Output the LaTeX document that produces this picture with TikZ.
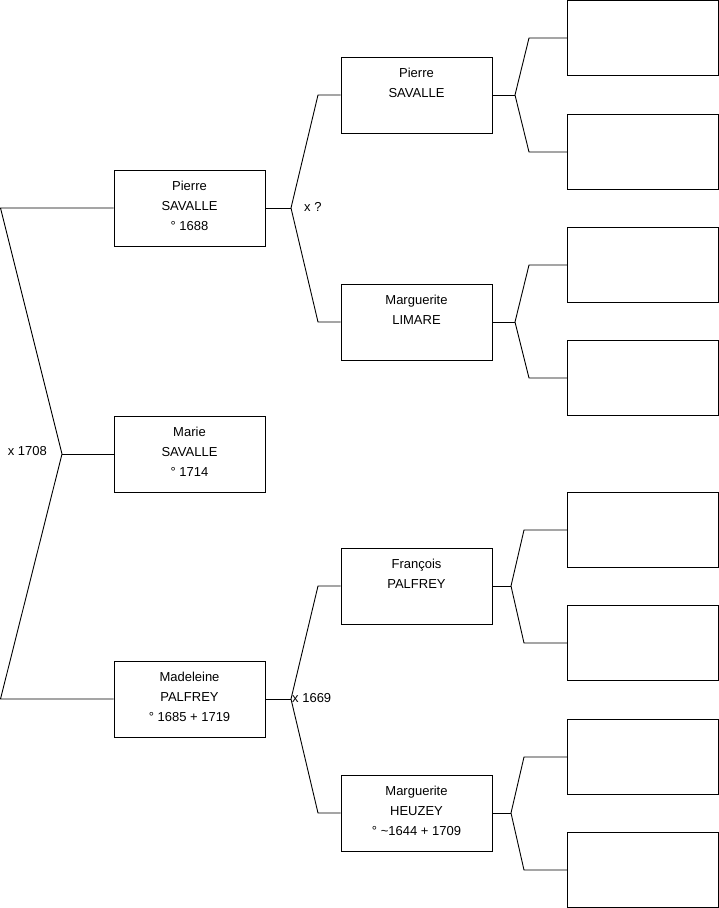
\documentclass[tikz,border=0pt]{standalone}
\usepackage{fontspec}
\setmainfont{Liberation Sans}
\begin{document}
\begin{tikzpicture}[x=1pt,y=-1pt,
  box/.style={draw,line width=0.9pt,minimum width=151pt,minimum height=76pt,inner sep=0pt},
  gbox/.style={draw,line width=0.9pt,minimum width=151pt,minimum height=75pt,inner sep=0pt},
  conn/.style={line width=0.9pt},
  txt/.style={font=\fontsize{13}{20}\selectfont,align=center,inner sep=0pt,anchor=north},
  lbl/.style={font=\fontsize{13}{16}\selectfont,inner sep=0pt}]
\useasboundingbox (0,0) rectangle (719,908);
% generation 1
\node[box] (p1) at (189.5,208) {};
\node[txt] (p1t) at ([yshift=-11.5pt]p1.north) {Pierre\\SAVALLE\\° 1688};
\node[box] (ma) at (189.5,454) {};
\node[txt] (mat) at ([yshift=-11.5pt]ma.north) {Marie\\SAVALLE\\° 1714};
\node[box] (m1) at (189.5,699) {};
\node[txt] (m1t) at ([yshift=-11.5pt]m1.north) {Madeleine\\PALFREY\\° 1685 + 1719};
% generation 2
\node[box] (g2a) at (416.5,95) {};
\node[txt] (g2at) at ([yshift=-11.5pt]g2a.north) {Pierre\\SAVALLE};
\node[box] (g2b) at (416.5,322) {};
\node[txt] (g2bt) at ([yshift=-11.5pt]g2b.north) {Marguerite\\LIMARE};
\node[box] (g2c) at (416.5,586) {};
\node[txt] (g2ct) at ([yshift=-11.5pt]g2c.north) {François\\PALFREY};
\node[box] (g2d) at (416.5,813) {};
\node[txt] (g2dt) at ([yshift=-11.5pt]g2d.north) {Marguerite\\HEUZEY\\° \textasciitilde1644 + 1709};
% generation 3
\node[gbox] (g3a) at (643,38) {};
\node[gbox] (g3b) at (643,152) {};
\node[gbox] (g3c) at (643,265) {};
\node[gbox] (g3d) at (643,378) {};
\node[gbox] (g3e) at (643,530) {};
\node[gbox] (g3f) at (643,643) {};
\node[gbox] (g3g) at (643,757) {};
\node[gbox] (g3h) at (643,870) {};
% connectors gen1
\coordinate (L1) at (0.5,208);
\coordinate (J1) at (62,454);
\coordinate (L2) at (0.5,699);
\draw[conn] (p1.west) -- (L1) -- (J1) -- (L2) -- (m1.west);
\draw[conn] (J1) -- (ma.west);
\node[lbl,anchor=east] (x1708) at (47,451) {x 1708};
% Pierre parents
\coordinate (J2) at (291,208);
\coordinate (a1) at (318,95);
\coordinate (a2) at (318,322);
\draw[conn] (p1.east) -- (J2);
\draw[conn] (g2a.west) -- (a1) -- (J2) -- (a2) -- (g2b.west);
\node[lbl,anchor=west] (xq) at (304,207) {x ?};
% Madeleine parents
\coordinate (J3) at (291,699);
\coordinate (b1) at (318,586);
\coordinate (b2) at (318,813);
\draw[conn] (m1.east) -- (J3);
\draw[conn] (g2c.west) -- (b1) -- (J3) -- (b2) -- (g2d.west);
\node[lbl,anchor=west] (x1669) at (292,698) {x 1669};
% gen2 -> gen3
\coordinate (Ja) at (515,95);
\coordinate (ca1) at (529,38);
\coordinate (ca2) at (529,152);
\draw[conn] (g2a.east) -- (Ja);
\draw[conn] (g3a.west) -- (ca1) -- (Ja) -- (ca2) -- (g3b.west);
\coordinate (Jb) at (515,322);
\coordinate (cb1) at (529,265);
\coordinate (cb2) at (529,378);
\draw[conn] (g2b.east) -- (Jb);
\draw[conn] (g3c.west) -- (cb1) -- (Jb) -- (cb2) -- (g3d.west);
\coordinate (Jc) at (511,586);
\coordinate (cc1) at (524,530);
\coordinate (cc2) at (524,643);
\draw[conn] (g2c.east) -- (Jc);
\draw[conn] (g3e.west) -- (cc1) -- (Jc) -- (cc2) -- (g3f.west);
\coordinate (Jd) at (511,813);
\coordinate (cd1) at (524,757);
\coordinate (cd2) at (524,870);
\draw[conn] (g2d.east) -- (Jd);
\draw[conn] (g3g.west) -- (cd1) -- (Jd) -- (cd2) -- (g3h.west);
\end{tikzpicture}
\end{document}
